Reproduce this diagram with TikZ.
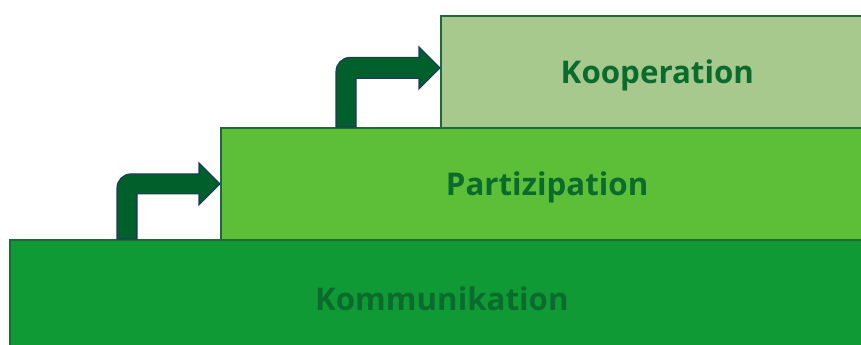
\documentclass[tikz,border=0pt]{standalone}
\usepackage{fontspec}
\setmainfont{Open Sans}
\usepackage{tikz}
\usetikzlibrary{calc,positioning}
\definecolor{stepdark}{HTML}{0F9A35}
\definecolor{stepmid}{HTML}{5DBE37}
\definecolor{steplight}{HTML}{A8C98D}
\definecolor{stepline}{HTML}{1C6B34}
\definecolor{steptext}{HTML}{0B6B2D}
\definecolor{arrowfill}{HTML}{005F2A}
\definecolor{arrowline}{HTML}{1F3864}

\begin{document}
\begin{tikzpicture}[every node/.style={font=\fontsize{17.8}{20}\selectfont\bfseries, text=steptext},
  stepbox/.style={draw=stepline, line width=1pt, minimum width=8.66cm, minimum height=2.24cm, inner sep=0pt,
    text height=0.58cm, text depth=0.1cm},
  stairarrow/.style={fill=arrowfill, draw=arrowline, line width=0.6pt, line join=miter}]
  \useasboundingbox (0,0) rectangle (17.22,-6.9);
  \clip (0,0) rectangle (17.22,-6.9);
  \node[stepbox, fill=steplight, anchor=north west] (koop) at (8.8,-0.3) {Kooperation};
  \node[stepbox, fill=stepmid, minimum width=13.05cm, anchor=north west] (part) at (4.4,-2.54) {Partizipation};
  \node[stepbox, fill=stepdark, minimum width=17.28cm, minimum height=2.36cm, anchor=north west] (kom) at (0.18,-4.78) {Kommunikation};

  % step arrows
  \coordinate (s1) at ($(part.west)+(-2.06,0)$);
  \draw[stairarrow] (part.west) -- ++(-0.42,0.42) -- ++(0,-0.22) [rounded corners=8pt] -- ($(s1)+(0,0.2)$)
    [sharp corners] -- (s1 |- kom.north) -- ++(0.4,0) -- ($(s1)+(0.4,-0.2)$)
    -- ++(1.24,0) -- ++(0,-0.22) -- cycle;
  \coordinate (tip2) at ($(koop.west)+(0,0.08)$);
  \coordinate (s2) at ($(tip2)+(-2.08,0)$);
  \draw[stairarrow] (tip2) -- ++(-0.42,0.42) -- ++(0,-0.21) [rounded corners=8pt] -- ($(s2)+(0,0.21)$)
    [sharp corners] -- (s2 |- part.north) -- ++(0.4,0) -- ($(s2)+(0.4,-0.21)$)
    -- ++(1.26,0) -- ++(0,-0.21) -- cycle;
\end{tikzpicture}
\end{document}
